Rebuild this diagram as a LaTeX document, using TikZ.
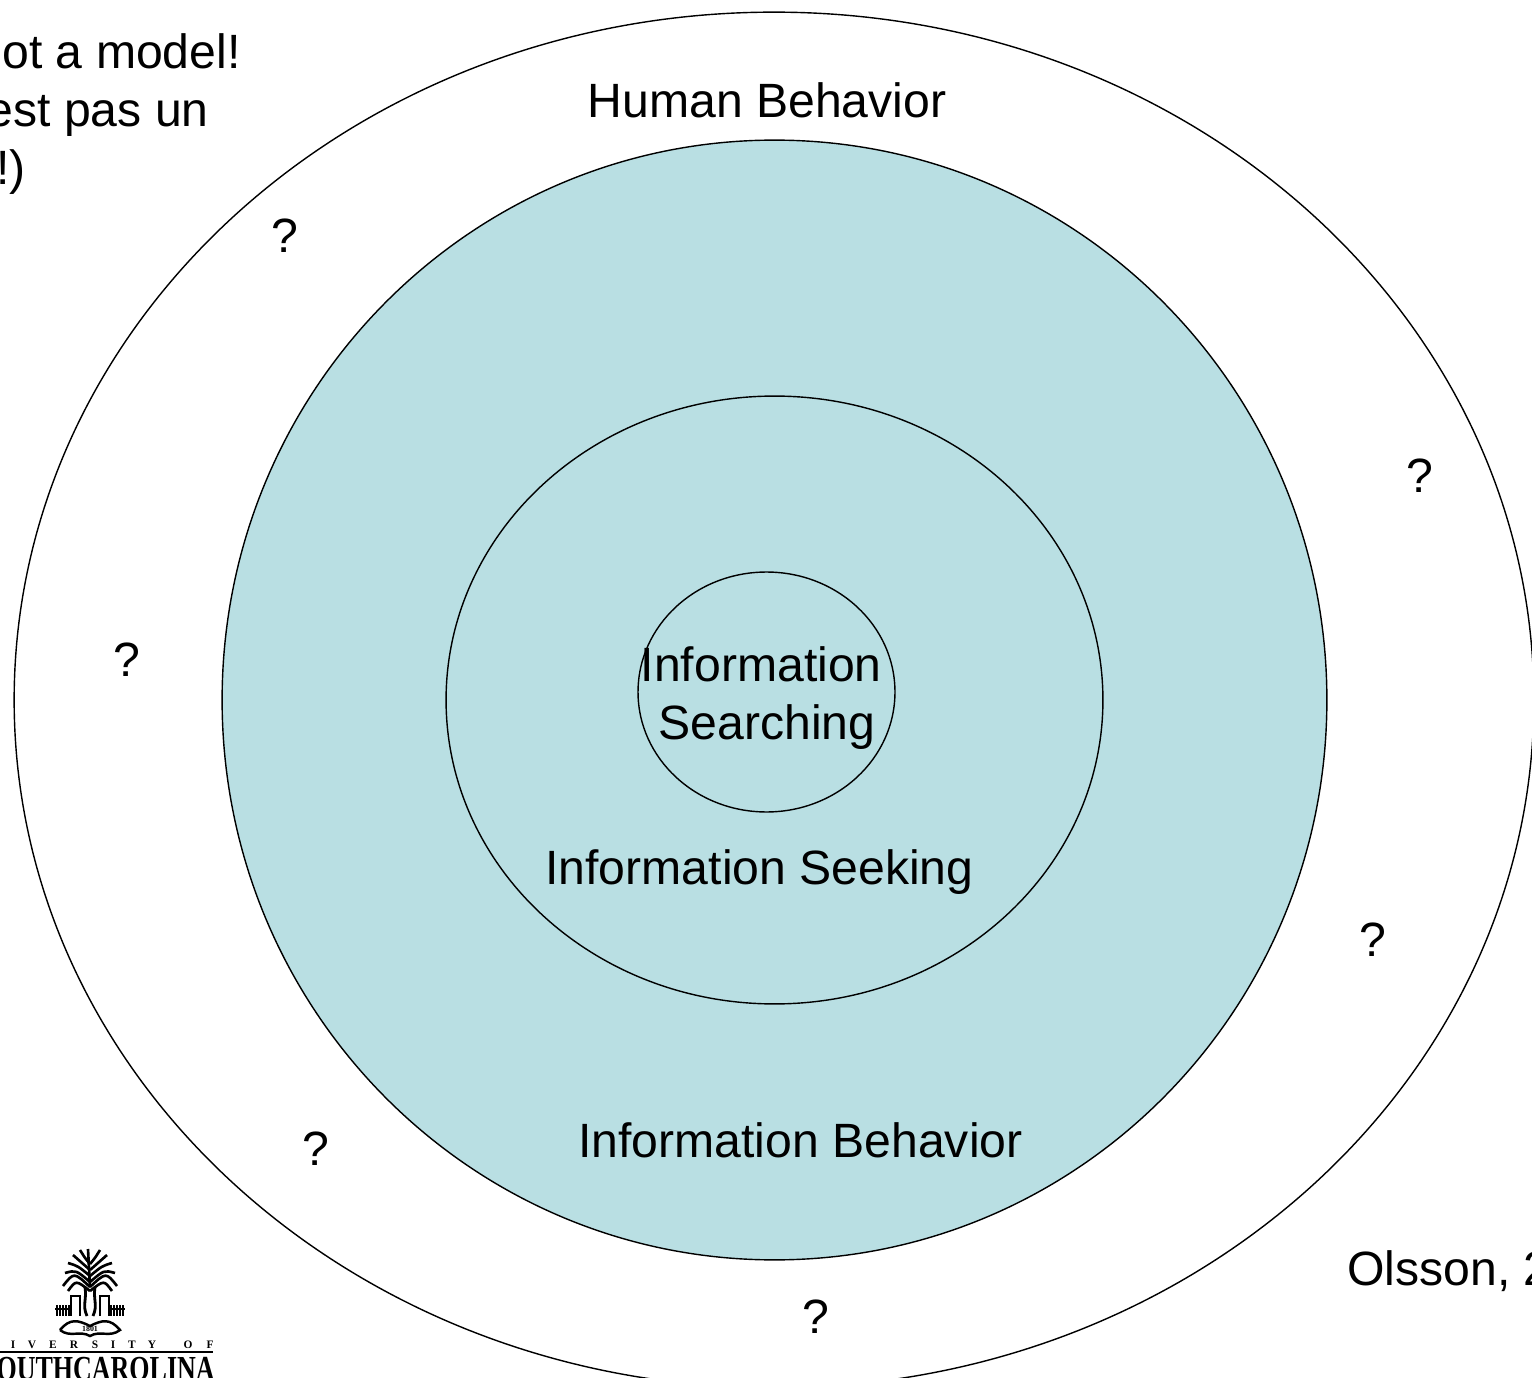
\documentclass[tikz,border=0pt]{standalone}
\usepackage{xcolor}
\usepackage{fontspec}
\setmainfont{Liberation Sans}
\newfontfamily\logofont{Liberation Serif}
\definecolor{behavior}{HTML}{B9DFE3}
\usetikzlibrary{shapes.geometric}
\tikzset{
  ring/.style={draw, ellipse, line width=0.8pt, inner sep=0pt, outer sep=0pt},
  label text/.style={font=\fontsize{27.4pt}{33pt}\selectfont, inner sep=0pt, align=center},
  frond/.style={line width=1.5pt},
  logo letter/.style={font=\logofont\fontsize{6.5pt}{6.5pt}\selectfont\bfseries, inner sep=0pt}
}

\begin{document}
\begin{tikzpicture}[x=0.02cm, y=-0.02cm]
  \useasboundingbox (0,0) rectangle (1532,1378);

  % Nested rings
  \node[ring, minimum width=30.4cm, minimum height=27.52cm] (human) at (774,700) {};
  \node[ring, fill=behavior, minimum width=22.1cm, minimum height=22.4cm] (behaviour) at (774.5,700) {};
  \node[ring, minimum width=13.14cm, minimum height=12.16cm] (seeking) at (774.5,700) {};
  \node[ring, minimum width=5.14cm, minimum height=4.8cm] (searching) at (766.5,692) {};

  % Ring labels
  \node[label text] (humanlabel) at (767,100) {Human Behavior};
  \node[label text] (searchinglabel) at (767,698) {Information\hspace*{0.24em}\\Searching};
  \node[label text] (seekinglabel) at (759.5,872) {Information Seeking};
  \node[label text] (behaviourlabel) at (800.5,1140) {Information Behavior};

  % Question marks
  \node[label text] (q1) at (285,236) {?};
  \node[label text] (q2) at (127,660) {?};
  \node[label text] (q3) at (1420,476) {?};
  \node[label text] (q4) at (1373,940) {?};
  \node[label text] (q5) at (316,1149) {?};
  \node[label text] (q6) at (816,1317) {?};

  % Text running off the page
  \node[label text, anchor=base east] (note1) at (241,69) {not a model!};
  \node[label text, anchor=base east] (note2) at (209,127) {est pas un};
  \node[label text, anchor=base east] (note3) at (26,185) {!)};
  \node[label text, anchor=base west] (source) at (1347,1285) {Olsson, 2};

  % Logo: palm and gate, one side then its mirror
  \foreach \s in {-1,1} {
    \begin{scope}[shift={(90,0)}, xscale=\s]
      \foreach \y/\dx/\ty/\cx/\cy in {1264/10/1250/5/1258, 1270/17/1255/9/1262, 1276/22/1263/12/1266,
          1282/25/1273/14/1270, 1287/27/1286/16/1272, 1291/22/1291/14/1280}
        \draw[frond] (0,\y) .. controls (\cx,\cy) .. (\dx,\ty);
      \draw[line width=1.6pt] (5,1287) .. controls (3,1300) and (8,1305) .. (3,1316);
      \draw[line width=1.6pt] (10,1316) -- (10,1296) -- (19,1296) -- (19,1316);
      \foreach \gx in {21,24,27,30,33}
        \draw[line width=0.9pt] (\gx,1305) -- (\gx,1316);
      \draw[line width=0.7pt] (19,1309) -- (35,1309);
    \end{scope}
  }
  \draw[frond] (90,1287) -- (88,1249);
  % Logo: banner
  \draw[line width=1.4pt] (60,1330) .. controls (70,1318) and (78,1320) .. (90,1326)
    .. controls (102,1320) and (110,1318) .. (120,1330)
    .. controls (110,1338) and (100,1330) .. (90,1336)
    .. controls (80,1330) and (70,1338) .. (60,1330);
  \node[logo letter, font=\logofont\fontsize{4.5pt}{4.5pt}\selectfont\bfseries] (year) at (90,1329) {1801};

  % Logo: wordmark
  \foreach \c/\x in {I/13, V/32, E/53, R/74, S/95, I/113, T/132, Y/152, O/188, F/210}
    \node[logo letter] (letter\x) at (\x,1345) {\c};
  \draw[line width=0.8pt] (0,1352) -- (213,1352);
  \node[inner sep=0pt, anchor=base east, xscale=0.74, font=\logofont\fontsize{20pt}{20pt}\selectfont\bfseries] (wordmark) at (215,1380) {OUTHCAROLINA};
\end{tikzpicture}
\end{document}
